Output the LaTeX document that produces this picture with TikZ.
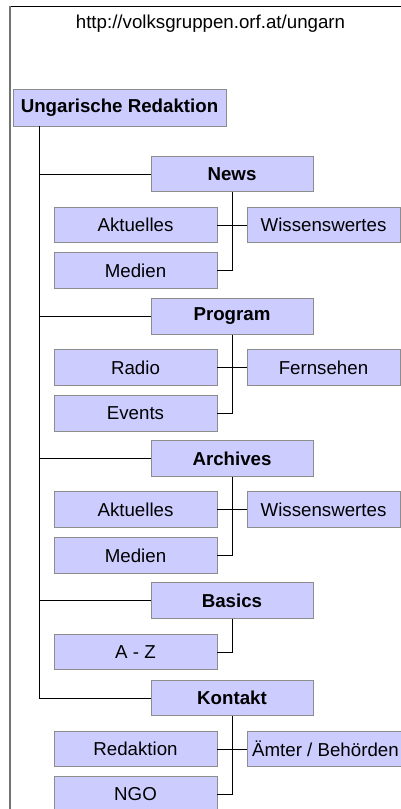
\documentclass[tikz,border=0pt]{standalone}
\usepackage{fontspec}
\setmainfont{Liberation Sans}
\begin{document}
\begin{tikzpicture}[x=1pt,y=-1pt,
  box/.style={draw=black!45,line width=0.9pt,fill={rgb,255:red,204;green,204;blue,255},inner sep=0pt,minimum height=35.5pt,font=\fontsize{18.7}{22}\selectfont},
  sec/.style={box,minimum width=162pt,font=\fontsize{18.7}{22}\selectfont\bfseries},
  lbox/.style={box,minimum width=163pt},
  rbox/.style={box,minimum width=153pt},
  conn/.style={draw=black,line width=1pt}]
\clip (0,0) rectangle (401,809);
\fill[white] (0,0) rectangle (401,809);
% frame
\coordinate (fTL) at (10,6);
\coordinate (fTR) at (402,6);
\coordinate (fBL) at (10,810);
\draw[black,line width=1pt] (fTL) -- (fTR);
\draw[black!55,line width=2pt] (fTL) -- (fBL);
\node[font=\fontsize{18.7}{22}\selectfont] (url) at (210.5,24) {http://volksgruppen.orf.at/ungarn};
% root
\node[box,minimum width=213pt,minimum height=37pt,font=\fontsize{18.7}{22}\selectfont\bfseries] (U) at (119.5,107.5) {Ungarische Redaktion};
% sections
\node[sec] (N) at (232,174) {News};
\node[sec] (P) at (232,316.5) {Program};
\node[sec] (A) at (232,458.5) {Archives};
\node[sec] (B) at (232,600.5) {Basics};
\node[sec] (K) at (232,698) {Kontakt};
% children
\node[lbox] (N1) at (135.5,225) {Aktuelles};
\node[rbox] (N2) at (323.5,225) {Wissenswertes};
\node[lbox] (N3) at (135.5,270.5) {Medien};
\node[lbox] (P1) at (135.5,367.5) {Radio};
\node[rbox] (P2) at (323.5,367.5) {Fernsehen};
\node[lbox] (P3) at (135.5,413.5) {Events};
\node[lbox] (A1) at (135.5,509.5) {Aktuelles};
\node[rbox] (A2) at (323.5,509.5) {Wissenswertes};
\node[lbox] (A3) at (135.5,555.5) {Medien};
\node[lbox] (B1) at (135.5,652) {A - Z};
\node[box,minimum width=160pt,anchor=west] (K2) at (247,749) {\hspace*{-4pt}Ämter / Behörden};
\node[lbox] (K1) at (135.5,749) {Redaktion};
\node[lbox] (K3) at (135.5,794.5) {NGO};
% trunk
\coordinate (t0) at (39.5,126);
\draw[conn] (t0) |- (K.west);
\foreach \s in {N,P,A,B}{\draw[conn] (t0 |- \s.west) -- (\s.west);}
% section connectors
\draw[conn] (N.south) |- (N3.east);
\draw[conn] (N1.east) -- (N2.west);
\draw[conn] (P.south) |- (P3.east);
\draw[conn] (P1.east) -- (P2.west);
\draw[conn] (A.south) |- (A3.east);
\draw[conn] (A1.east) -- (A2.west);
\draw[conn] (B.south) |- (B1.east);
\draw[conn] (K.south) |- (K3.east);
\draw[conn] (K1.east) -- (K2.west);
\end{tikzpicture}
\end{document}
